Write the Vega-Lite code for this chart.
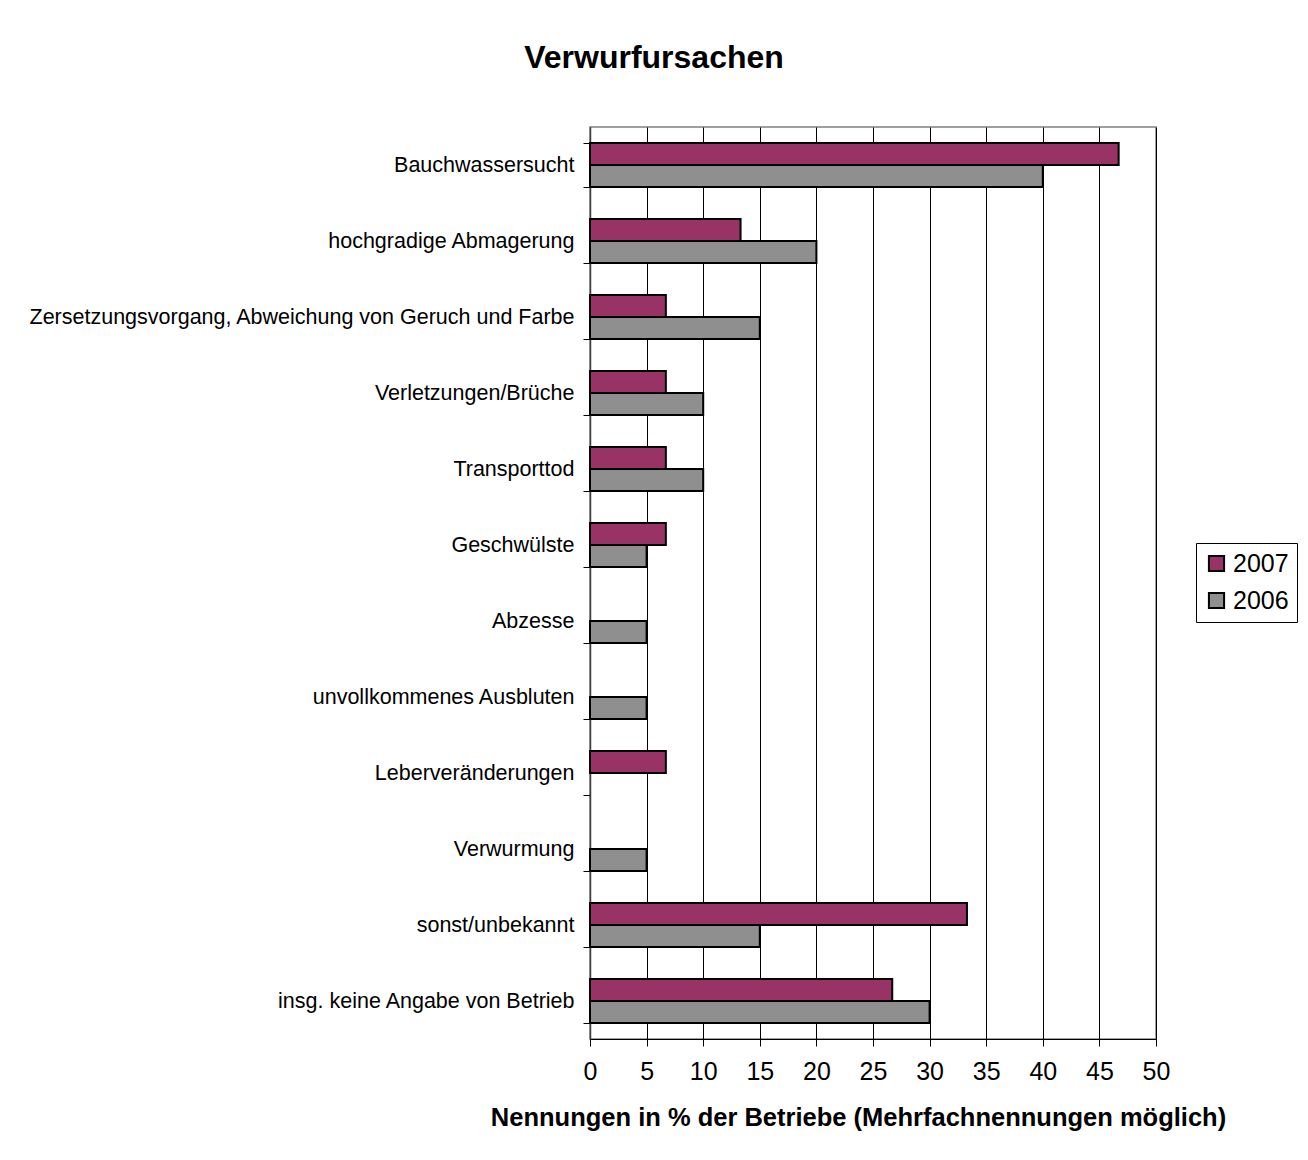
{
  "$schema": "https://vega.github.io/schema/vega-lite/v6.json",
  "autosize": "none",
  "width": 566,
  "height": 912,
  "padding": {"left": 590, "top": 127, "right": 152, "bottom": 121},
  "background": "white",
  "title": {
    "text": "Verwurfursachen",
    "font": "Liberation Sans",
    "fontSize": 32,
    "fontWeight": "bold",
    "color": "black",
    "anchor": "middle",
    "dx": -219,
    "offset": 41
  },
  "data": {
    "values": [
      {"cause": "Bauchwassersucht", "year": "2007", "value": 46.7},
      {"cause": "Bauchwassersucht", "year": "2006", "value": 40},
      {"cause": "hochgradige Abmagerung", "year": "2007", "value": 13.3},
      {"cause": "hochgradige Abmagerung", "year": "2006", "value": 20},
      {"cause": "Zersetzungsvorgang, Abweichung von Geruch und Farbe", "year": "2007", "value": 6.7},
      {"cause": "Zersetzungsvorgang, Abweichung von Geruch und Farbe", "year": "2006", "value": 15},
      {"cause": "Verletzungen/Brüche", "year": "2007", "value": 6.7},
      {"cause": "Verletzungen/Brüche", "year": "2006", "value": 10},
      {"cause": "Transporttod", "year": "2007", "value": 6.7},
      {"cause": "Transporttod", "year": "2006", "value": 10},
      {"cause": "Geschwülste", "year": "2007", "value": 6.7},
      {"cause": "Geschwülste", "year": "2006", "value": 5},
      {"cause": "Abzesse", "year": "2006", "value": 5},
      {"cause": "unvollkommenes Ausbluten", "year": "2006", "value": 5},
      {"cause": "Leberveränderungen", "year": "2007", "value": 6.7},
      {"cause": "Verwurmung", "year": "2006", "value": 5},
      {"cause": "sonst/unbekannt", "year": "2007", "value": 33.3},
      {"cause": "sonst/unbekannt", "year": "2006", "value": 15},
      {"cause": "insg. keine Angabe von Betrieb", "year": "2007", "value": 26.7},
      {"cause": "insg. keine Angabe von Betrieb", "year": "2006", "value": 30}
    ]
  },
  "mark": {"type": "bar", "stroke": "black", "strokeWidth": 2},
  "encoding": {
    "y": {
      "field": "cause",
      "type": "nominal",
      "sort": [
        "Bauchwassersucht",
        "hochgradige Abmagerung",
        "Zersetzungsvorgang, Abweichung von Geruch und Farbe",
        "Verletzungen/Brüche",
        "Transporttod",
        "Geschwülste",
        "Abzesse",
        "unvollkommenes Ausbluten",
        "Leberveränderungen",
        "Verwurmung",
        "sonst/unbekannt",
        "insg. keine Angabe von Betrieb"
      ],
      "scale": {"paddingInner": 0.42, "paddingOuter": 0.21},
      "axis": {
        "title": null,
        "labelFont": "Liberation Sans",
        "labelFontSize": 21.5,
        "labelColor": "black",
        "labelLimit": 600,
        "labelPadding": 9,
        "tickBand": "extent",
        "tickSize": 7,
        "tickColor": "black",
        "domainColor": "#404040",
        "domainWidth": 1.5,
        "grid": false
      }
    },
    "yOffset": {"field": "year", "type": "nominal", "sort": ["2007", "2006"]},
    "x": {
      "field": "value",
      "type": "quantitative",
      "scale": {"domain": [0, 50], "nice": false},
      "axis": {
        "title": "Nennungen in % der Betriebe (Mehrfachnennungen möglich)",
        "titleFont": "Liberation Sans",
        "titleFontSize": 25.5,
        "titleFontWeight": "bold",
        "titleColor": "black",
        "titlePadding": 21,
        "titleX": 268,
        "values": [0, 5, 10, 15, 20, 25, 30, 35, 40, 45, 50],
        "labelFont": "Liberation Sans",
        "labelFontSize": 25,
        "labelColor": "black",
        "labelPadding": 13,
        "labelFlush": false,
        "tickSize": 7,
        "tickColor": "black",
        "domainColor": "black",
        "grid": true,
        "gridColor": "black",
        "gridWidth": 1
      }
    },
    "fill": {
      "field": "year",
      "type": "nominal",
      "scale": {"domain": ["2007", "2006"], "range": ["#993366", "#8f8f8f"]},
      "legend": {
        "title": null,
        "orient": "none",
        "legendX": 606,
        "legendY": 416,
        "labelFont": "Liberation Sans",
        "labelFontSize": 25,
        "labelColor": "black",
        "symbolType": "square",
        "symbolSize": 230,
        "symbolStrokeColor": "black",
        "symbolStrokeWidth": 2,
        "rowPadding": 11,
        "labelOffset": 4,
        "strokeColor": "black",
        "padding": 8,
        "fillColor": "white"
      }
    }
  },
  "config": {
    "view": {"stroke": "#808080", "strokeWidth": 1.5}
  }
}
